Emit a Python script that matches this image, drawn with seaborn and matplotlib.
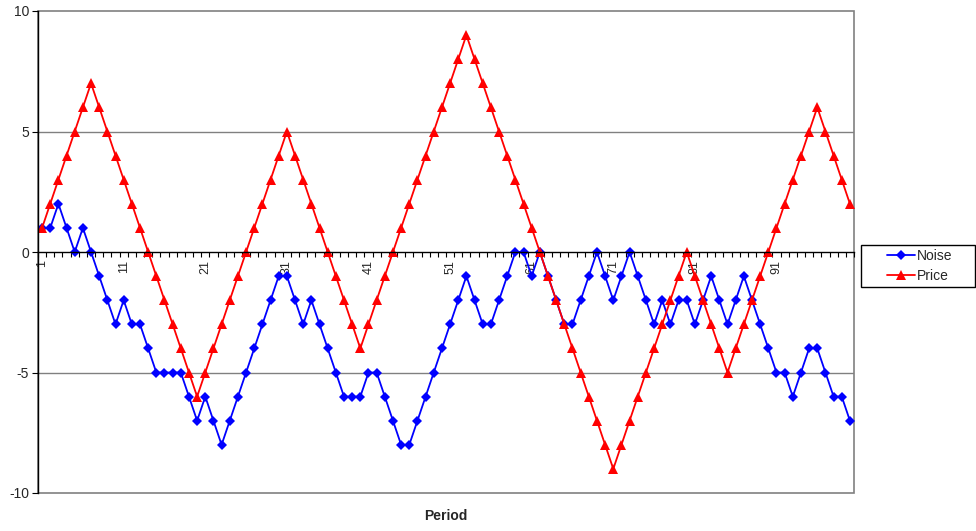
import numpy as np
import pandas as pd
import matplotlib
matplotlib.use("Agg")
import matplotlib.pyplot as plt
from matplotlib.patches import Rectangle
import seaborn as sns

# Series values per period (1..100)
period = list(range(1, 101))
noise = [1, 1, 2, 1, 0, 1, 0, -1, -2, -3,
         -2, -3, -3, -4, -5, -5, -5, -5, -6, -7,
         -6, -7, -8, -7, -6, -5, -4, -3, -2, -1,
         -1, -2, -3, -2, -3, -4, -5, -6, -6, -6,
         -5, -5, -6, -7, -8, -8, -7, -6, -5, -4,
         -3, -2, -1, -2, -3, -3, -2, -1, 0, 0,
         -1, 0, -1, -2, -3, -3, -2, -1, 0, -1,
         -2, -1, 0, -1, -2, -3, -2, -3, -2, -2,
         -3, -2, -1, -2, -3, -2, -1, -2, -3, -4,
         -5, -5, -6, -5, -4, -4, -5, -6, -6, -7]
price = [1, 2, 3, 4, 5, 6, 7, 6, 5, 4,
         3, 2, 1, 0, -1, -2, -3, -4, -5, -6,
         -5, -4, -3, -2, -1, 0, 1, 2, 3, 4,
         5, 4, 3, 2, 1, 0, -1, -2, -3, -4,
         -3, -2, -1, 0, 1, 2, 3, 4, 5, 6,
         7, 8, 9, 8, 7, 6, 5, 4, 3, 2,
         1, 0, -1, -2, -3, -4, -5, -6, -7, -8,
         -9, -8, -7, -6, -5, -4, -3, -2, -1, 0,
         -1, -2, -3, -4, -5, -4, -3, -2, -1, 0,
         1, 2, 3, 4, 5, 6, 5, 4, 3, 2]
x_tick_labels = [str(v) for v in range(1, 101, 10)]
y_ticks = [-10, -5, 0, 5, 10]

sns.set_theme(style="white")
plt.rcParams["font.family"] = ["Liberation Sans", "DejaVu Sans"]

df = pd.DataFrame({"Period": period, "Noise": noise, "Price": price})

W, H = 976, 531
fig = plt.figure(figsize=(W / 100, H / 100), dpi=100)
ax = fig.add_axes([38 / W, 38 / H, (854 - 38) / W, (493 - 11) / H])

sns.lineplot(data=df, x="Period", y="Noise", ax=ax, color="#0000FF",
             marker="D", markersize=5.5, markeredgewidth=0, linewidth=1.3,
             label="Noise", legend=False)
sns.lineplot(data=df, x="Period", y="Price", ax=ax, color="#FF0000",
             marker="^", markersize=7, markeredgewidth=0, linewidth=1.3,
             label="Price", legend=False)

ax.set_xlim(0.5, 100.5)
ax.set_ylim(-10, 10)

# horizontal gridlines
for yv in (5, -5):
    ax.axhline(yv, color="#808080", linewidth=1, zorder=0)

# plot-area border
ax.add_patch(Rectangle((0, 0), 1, 1, transform=ax.transAxes, fill=False,
                       edgecolor="#808080", linewidth=1.2, zorder=0, clip_on=False))

# category axis crossing at zero
ax.spines["bottom"].set_position(("data", 0))
ax.spines["bottom"].set_color("black")
ax.spines["bottom"].set_linewidth(1)
ax.spines["left"].set_color("black")
ax.spines["left"].set_linewidth(1)
for s in ("top", "right"):
    ax.spines[s].set_visible(False)

ax.set_xticks(range(1, 101, 10))
ax.set_xticklabels(x_tick_labels, rotation=90, fontsize=9)
ax.set_xticks(np.arange(0.5, 101, 1), minor=True)
ax.tick_params(axis="x", which="major", length=0, pad=5.5)
ax.tick_params(axis="x", which="minor", length=3.5, width=0.8, color="black",
               direction="out", bottom=True)

ax.set_yticks(y_ticks)
ax.set_yticklabels([str(v) for v in y_ticks], fontsize=10)
ax.tick_params(axis="y", which="major", length=4, width=0.8, color="black",
               direction="out", left=True, pad=2.5)

ax.set_xlabel("")
ax.set_ylabel("")
fig.text(446 / W, 1 - 516 / H, "Period", ha="center", va="center",
         fontsize=10, fontweight="bold")

# legend box at the right of the plot area
box_x0, box_x1, box_y0, box_y1 = 861, 975, 245, 287
fig.patches.append(Rectangle((box_x0 / W, 1 - box_y1 / H),
                             (box_x1 - box_x0) / W, (box_y1 - box_y0) / H,
                             transform=fig.transFigure, fill=True,
                             facecolor="white", edgecolor="black", linewidth=1))
handles, labels = ax.get_legend_handles_labels()
leg = fig.legend(handles, labels, loc="center",
                 bbox_to_anchor=((box_x0 + box_x1) / 2 / W + 2 / W,
                                 1 - (box_y0 + box_y1) / 2 / H),
                 frameon=False, fontsize=10,
                 handlelength=2.0, handletextpad=0.15, borderpad=0,
                 labelspacing=0.45, borderaxespad=0)

fig.savefig("out.png", dpi=100, facecolor="white")
